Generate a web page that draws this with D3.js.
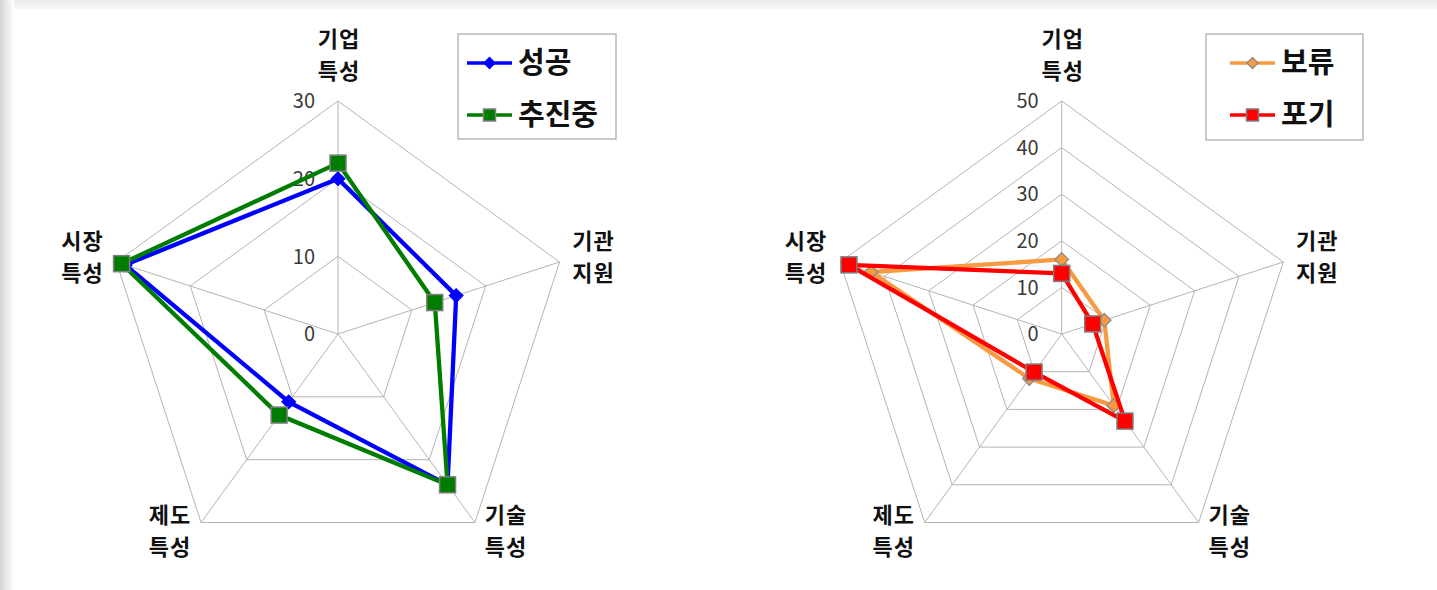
<!DOCTYPE html>
<html><head><meta charset="utf-8">
<script src="https://cdn.jsdelivr.net/npm/d3@7"></script>
<style>
html,body{margin:0;padding:0;background:#fff;}
svg{display:block;}
text{font-family:"Noto Sans CJK KR","Noto Sans",sans-serif;}
</style></head>
<body>
<svg id="chart" width="1437" height="590"></svg>
<script>
// ---- data ----
const categories = ["기업\n특성", "기관\n지원", "기술\n특성", "제도\n특성", "시장\n특성"];

const leftSeriesNames = ["성공", "추진중"];
const leftSuccess   = [20, 16, 24, 10.8, 28.8];
const leftOngoing   = [22, 13.1, 24, 12.9, 29.3];
const leftTicks     = [0, 10, 20, 30];

const rightSeriesNames = ["보류", "포기"];
const rightHold     = [16, 9.6, 19, 11.8, 43];
const rightAbandon  = [13, 7, 23.1, 10.1, 48];
const rightTicks    = [0, 10, 20, 30, 40, 50];

// ---- drawing ----
const svg = d3.select("#chart");
const defs = svg.append("defs");
const lg = defs.append("linearGradient").attr("id","lgrad").attr("x1","0").attr("x2","1").attr("y1","0").attr("y2","0");
lg.append("stop").attr("offset","0").attr("stop-color","#d4d4d4");
lg.append("stop").attr("offset","1").attr("stop-color","#ffffff");
const tg = defs.append("linearGradient").attr("id","tgrad").attr("x1","0").attr("x2","0").attr("y1","0").attr("y2","1");
tg.append("stop").attr("offset","0").attr("stop-color","#ebebeb");
tg.append("stop").attr("offset","1").attr("stop-color","#f8f8f8");
svg.append("rect").attr("x",0).attr("y",0).attr("width",1437).attr("height",590).attr("fill","#fff");
svg.append("rect").attr("x",0).attr("y",0).attr("width",1437).attr("height",9).attr("fill","url(#tgrad)");
svg.append("rect").attr("x",0).attr("y",0).attr("width",14).attr("height",590).attr("fill","url(#lgrad)");

const R = 233;
const n = categories.length;
const angle = i => i * 2 * Math.PI / n;

function drawRadar(cx, cy, ticks, series, legend) {
  const g = svg.append("g").attr("transform", `translate(${cx},${cy})`);
  const maxV = d3.max(ticks);
  const r = d3.scaleLinear().domain([0, maxV]).range([0, R]);
  const pt = (i, v) => [r(v) * Math.sin(angle(i)), -r(v) * Math.cos(angle(i))];

  // rings
  ticks.filter(t => t > 0).forEach(t => {
    g.append("path")
      .attr("d", d3.lineRadial().angle((d, i) => angle(i)).radius(() => r(t)).curve(d3.curveLinearClosed)(categories))
      .attr("fill", "none").attr("stroke", "#b4b4b4").attr("stroke-width", 1);
  });
  // spokes
  categories.forEach((c, i) => {
    const [x, y] = pt(i, maxV);
    g.append("line").attr("x1", 0).attr("y1", 0).attr("x2", x).attr("y2", y)
      .attr("stroke", "#b4b4b4").attr("stroke-width", 1);
  });
  // tick labels
  ticks.forEach(t => {
    g.append("text").attr("x", -23).attr("y", -r(t)).attr("dy", "0.36em")
      .attr("text-anchor", "end").attr("font-size", 20).attr("fill", "#3a3a3a")
      .attr("font-family", "'Open Sans','Noto Sans',sans-serif")
      .text(t);
  });
  // category labels
  categories.forEach((c, i) => {
    const [vx, vy] = pt(i, maxV);
    const s = Math.sin(angle(i)), co = Math.cos(angle(i));
    let x, y;
    if (Math.abs(s) < 0.1) { x = vx + 1; y = vy - 46; }
    else if (co > 0) { x = vx + Math.sign(s) * 34; y = vy - 5; }
    else { x = vx + Math.sign(s) * 31; y = vy + 9; }
    const lines = c.split("\n");
    lines.forEach((ln, k) => {
      g.append("text").attr("text-anchor", "middle").attr("font-size", 22)
        .attr("letter-spacing", 1)
        .attr("font-weight", "bold").attr("fill", "#111")
        .attr("x", x).attr("y", y + (k - 0.5) * 32).attr("dy", "0.36em").text(ln);
    });
  });

  // series
  series.forEach(s => {
    const line = d3.lineRadial().angle((d, i) => angle(i)).radius(d => r(d)).curve(d3.curveLinearClosed);
    g.append("path").attr("d", line(s.values)).attr("fill", "none")
      .attr("stroke", s.color).attr("stroke-width", 4.3).attr("stroke-linejoin", "miter");
    s.values.forEach((v, i) => {
      const [x, y] = pt(i, v);
      drawMarker(g, s, x, y, s.shape === "square" ? 16 : 13.5);
    });
  });

  // legend
  const lgG = svg.append("g");
  lgG.append("rect").attr("x", legend.x).attr("y", legend.y).attr("width", legend.w).attr("height", legend.h)
    .attr("fill", "#fff").attr("stroke", "#a6a6a6").attr("stroke-width", 1.2);
  series.forEach((s, k) => {
    const y = legend.y + 29 + k * 52;
    const x0 = legend.x + legend.lx;
    lgG.append("line").attr("x1", x0).attr("x2", x0 + 45).attr("y1", y).attr("y2", y)
      .attr("stroke", s.color).attr("stroke-width", 3.5);
    drawMarker(lgG, s, x0 + 22.5, y, s.shape === "square" ? 12 : 11);
    lgG.append("text").attr("x", x0 + 51).attr("y", y).attr("dy", "0.36em")
      .attr("font-size", 29).attr("font-weight", "bold").attr("fill", "#111").text(s.name);
  });
}

function drawMarker(g, s, x, y, size) {
  if (s.shape === "square") {
    g.append("rect").attr("x", x - size / 2).attr("y", y - size / 2).attr("width", size).attr("height", size)
      .attr("fill", s.color).attr("stroke", "#7f7f7f").attr("stroke-width", 1.5);
  } else {
    const h = size / 2;
    g.append("path").attr("d", `M${x},${y - h}L${x + h},${y}L${x},${y + h}L${x - h},${y}Z`)
      .attr("fill", s.color).attr("stroke", s.border).attr("stroke-width", 1.3);
  }
}

drawRadar(338, 334, leftTicks, [
  { name: leftSeriesNames[0], values: leftSuccess, color: "#0000ff", border: "#0000ff", shape: "diamond" },
  { name: leftSeriesNames[1], values: leftOngoing, color: "#007d00", shape: "square" }
], { x: 458, y: 34, w: 158, h: 105, lx: 9 });

drawRadar(1061.7, 334, rightTicks, [
  { name: rightSeriesNames[0], values: rightHold, color: "#f79a40", border: "#8a8a8a", shape: "diamond" },
  { name: rightSeriesNames[1], values: rightAbandon, color: "#ff0000", shape: "square" }
], { x: 1206, y: 34, w: 157, h: 106, lx: 24 });
</script>
</body></html>
